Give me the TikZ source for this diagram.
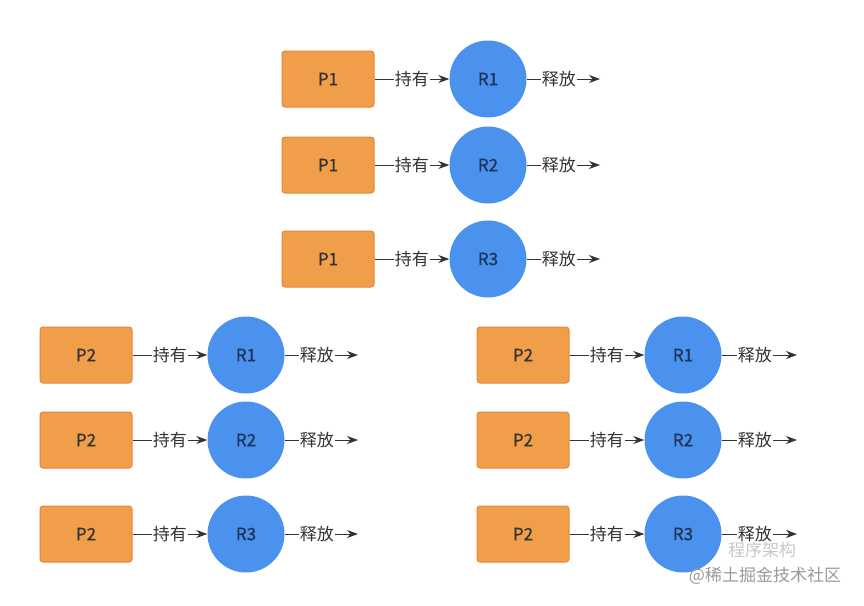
\documentclass[tikz,border=0pt]{standalone}
\usepackage{fontspec}
\setmainfont{Noto Sans CJK SC}
\newfontfamily\nodefont[FakeBold=0.8]{Noto Sans CJK SC}
\usetikzlibrary{arrows.meta}
\definecolor{boxfill}{HTML}{F19E4A}
\definecolor{boxline}{HTML}{E0883A}
\definecolor{circfill}{HTML}{4A92EE}
\definecolor{txt}{HTML}{333333}
\definecolor{rtxt}{HTML}{1E3556}
\tikzset{
  proc/.style={draw=boxline, line width=1pt, fill=boxfill, rounded corners=3pt, minimum width=92pt, minimum height=56pt, inner sep=0pt, font=\nodefont\fontsize{17}{19}\selectfont, text=txt},
  res/.style={circle, fill=circfill, minimum size=77pt, inner sep=0pt, font=\nodefont\fontsize{17}{19}\selectfont, text=rtxt},
  conn/.style={draw=txt, line width=1pt, -{Stealth[length=11pt,width=8pt]}},
  lab/.style={fill=white, inner sep=1pt, font=\fontsize{17}{19}\selectfont, text=txt},
}
\begin{document}
\begin{tikzpicture}[x=1pt,y=-1pt]
\useasboundingbox (0,0) rectangle (864,605);
\foreach \pre/\bx/\cx/\ex/\pl/\rows in {a/328/488/600/P1/{79/1,165/2,259/3}, b/86/246/358/P2/{355/1,440/2,534/3}, c/523/683/797/P2/{355/1,440/2,534/3}}{
  \foreach \yy/\k in \rows {
    \node[proc] (\pre p\k) at (\bx,\yy) {\pl};
    \node[res] (\pre r\k) at (\cx,\yy) {R\k};
    \coordinate (\pre e\k) at (\ex,\yy);
    \draw[conn] (\pre p\k) -- node[lab, pos=0.5]{持有} (\pre r\k);
    \draw[conn] (\pre r\k) -- node[lab, pos=0.44]{释放} (\pre e\k);
  }
}
\node[text=black!22, font=\fontsize{17}{19}\selectfont] (wm2) at (762,550) {程序架构};
\node[text=black!40, font=\fontsize{17}{19}\selectfont] (wm1) at (765,576) {@稀土掘金技术社区};
\end{tikzpicture}
\end{document}
